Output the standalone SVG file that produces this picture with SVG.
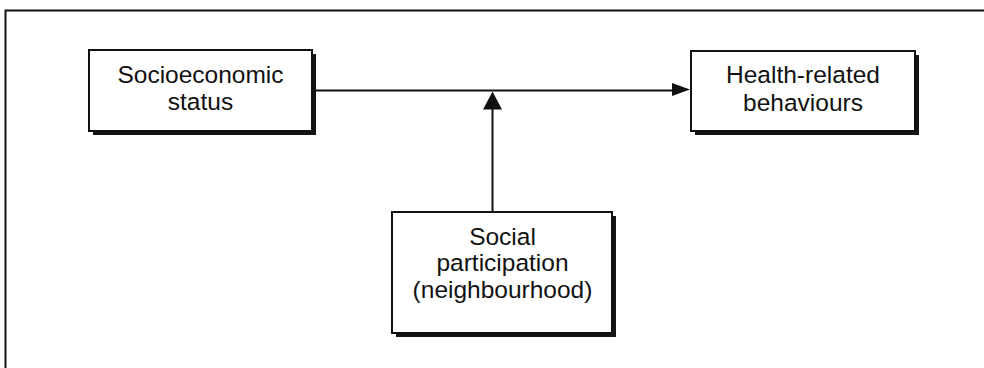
<svg xmlns="http://www.w3.org/2000/svg" width="984" height="368" viewBox="0 0 984 368">
  <defs>
    <style>
      .frame { fill: none; stroke: #111; stroke-width: 2; }
      .shadow { fill: #151515; }
      .box { fill: #fff; stroke: #111; stroke-width: 2; }
      .label { font-family: "Liberation Sans", Arial, Helvetica, sans-serif; font-size: 24.5px; fill: #111; text-anchor: middle; }
      .wire { fill: none; stroke: #111; stroke-width: 2; }
      .head { fill: #111; }
    </style>
  </defs>

  <rect width="984" height="368" fill="#fff"/>

  <!-- outer figure frame (open at right and bottom) -->
  <path class="frame" d="M5.5,369 V10.5 H984"/>

  <!-- connectors -->
  <g id="connectors">
    <line class="wire" x1="313" y1="90.5" x2="672" y2="90.5"/>
    <path class="head" d="M672,83 L690,89.5 L672,96 Z"/>
    <line class="wire" x1="492.5" y1="212" x2="492.5" y2="108"/>
    <path class="head" d="M483,109.5 L492.5,91.5 L502,109.5 Z"/>
  </g>

  <g id="node-socioeconomic">
    <rect class="shadow" x="93" y="54" width="223" height="81"/>
    <rect class="box" x="89" y="50" width="223" height="81"/>
    <text class="label" x="200.5" y="83">Socioeconomic</text>
    <text class="label" x="200.5" y="110">status</text>
  </g>

  <g id="node-health">
    <rect class="shadow" x="695" y="55" width="224" height="80"/>
    <rect class="box" x="691" y="51" width="224" height="80"/>
    <text class="label" x="803" y="83">Health-related</text>
    <text class="label" x="803" y="111">behaviours</text>
  </g>

  <g id="node-social">
    <rect class="shadow" x="396" y="216" width="220" height="121"/>
    <rect class="box" x="392" y="212" width="220" height="121"/>
    <text class="label" x="502.5" y="245">Social</text>
    <text class="label" x="502.5" y="271">participation</text>
    <text class="label" x="502.5" y="298">(neighbourhood)</text>
  </g>
</svg>
